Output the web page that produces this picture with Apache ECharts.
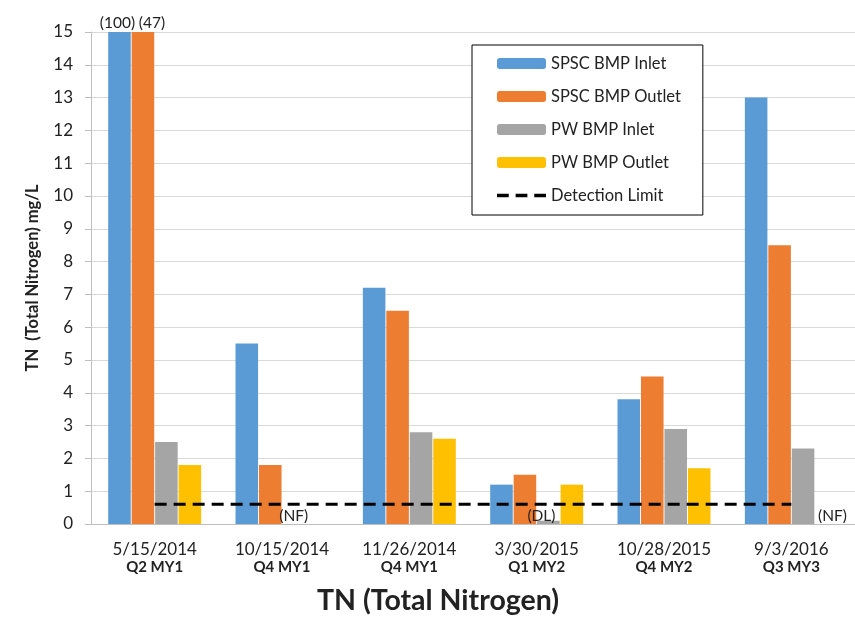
<!DOCTYPE html>
<html>
<head>
<meta charset="utf-8">
<script src="https://cdn.jsdelivr.net/npm/echarts@6/dist/echarts.min.js"></script>
<style>
  html, body { margin: 0; padding: 0; background: #fff; }
  #main { width: 855px; height: 622px; }
</style>
</head>
<body>
<div id="main"></div>
<script>
// sampling dates and monitoring quarters
var categories = ['5/15/2014', '10/15/2014', '11/26/2014', '3/30/2015', '10/28/2015', '9/3/2016'];
var quarters = ['Q2 MY1', 'Q4 MY1', 'Q4 MY1', 'Q1 MY2', 'Q4 MY2', 'Q3 MY3'];

// TN mg/L (null = not found)
var spscInlet = [100, 5.5, 7.2, 1.2, 3.8, 13];
var spscOutlet = [47, 1.8, 6.5, 1.5, 4.5, 8.5];
var pwInlet = [2.5, null, 2.8, 0.1, 2.9, 2.3];
var pwOutlet = [1.8, null, 2.6, 1.2, 1.7, null];
var detectionLimit = [0.6, 0.6, 0.6, 0.6, 0.6, 0.6];

// notes printed near bars
var pwInletNotes = [null, '(NF)', null, '(DL)', null, null];
var pwOutletNotes = [null, null, null, null, null, '(NF)'];

var yMax = 15;
var font = 'Lato, "DejaVu Sans", sans-serif';
var txt = '#222';

// values above the axis max are cut at the top and get their real value printed
function clipped(arr, dx) {
  return arr.map(function (v) {
    if (v > yMax) {
      return {
        value: yMax,
        label: {
          show: true, position: 'top', distance: 1, offset: [dx, 0],
          formatter: '(' + v + ')', color: txt, fontSize: 15.5, fontFamily: font
        }
      };
    }
    return v;
  });
}

function withNotes(arr, notes, dxs) {
  return arr.map(function (v, i) {
    if (notes[i]) {
      return {
        value: v == null ? 0 : v,
        label: {
          show: true, position: 'insideBottom', distance: 0, offset: [dxs[i] || 0, 0],
          formatter: notes[i], color: txt, fontSize: 15.5, fontFamily: font
        }
      };
    }
    return v;
  });
}

var myChart = echarts.init(document.getElementById('main'));
myChart.setOption({
  animation: false,
  textStyle: { fontFamily: font },
  color: ['#5b9bd5', '#ed7d31', '#a5a5a5', '#ffc000'],
  legend: {
    orient: 'vertical',
    left: 472,
    top: 45,
    padding: [10, 22, 11, 25],
    itemWidth: 49,
    itemHeight: 11,
    itemGap: 16,
    borderColor: '#000',
    borderWidth: 1,
    backgroundColor: '#fff',
    textStyle: { fontSize: 16.5, color: txt, fontFamily: font },
    data: [
      'SPSC BMP Inlet', 'SPSC BMP Outlet', 'PW BMP Inlet', 'PW BMP Outlet',
      { name: 'Detection Limit', icon: 'path://M0,0h12v3.5h-12z M19,0h12v3.5h-12z M38,0h12v3.5h-12z' }
    ]
  },
  grid: { left: 91, top: 32, width: 769, height: 492 },
  xAxis: {
    type: 'category',
    data: categories,
    axisLine: { lineStyle: { color: '#bfbfbf' } },
    axisTick: { length: 6, lineStyle: { color: '#bfbfbf' } },
    axisLabel: {
      margin: 17,
      formatter: function (v, i) {
        return '{d|' + v + '}\n{q|' + quarters[i] + '}';
      },
      rich: {
        d: { fontSize: 17, color: txt, fontFamily: font, lineHeight: 18 },
        q: { fontSize: 15, fontWeight: 'bold', color: txt, fontFamily: font, lineHeight: 17 }
      }
    }
  },
  yAxis: {
    type: 'value',
    min: 0,
    max: yMax,
    interval: 1,
    name: 'TN  (Total Nitrogen) mg/L',
    nameLocation: 'middle',
    nameGap: 50,
    nameTextStyle: { fontSize: 16.5, fontWeight: 'bold', color: txt, fontFamily: font },
    axisLine: { show: true, lineStyle: { color: '#bfbfbf' } },
    axisTick: { show: true, length: 6, lineStyle: { color: '#bfbfbf' } },
    axisLabel: { margin: 18, fontSize: 17, color: txt, fontFamily: font },
    splitLine: { lineStyle: { color: '#d9d9d9' } }
  },
  graphic: [{
    type: 'text',
    x: 438,
    y: 601,
    style: {
      text: 'TN (Total Nitrogen)',
      fontSize: 28.5,
      fontWeight: 'bold',
      fontFamily: font,
      fill: txt,
      textAlign: 'center',
      textVerticalAlign: 'middle'
    }
  }],
  series: [
    {
      name: 'SPSC BMP Inlet', type: 'bar', barGap: '4%', barCategoryGap: '27%',
      data: clipped(spscInlet, -2)
    },
    {
      name: 'SPSC BMP Outlet', type: 'bar',
      data: clipped(spscOutlet, 9)
    },
    {
      name: 'PW BMP Inlet', type: 'bar',
      data: withNotes(pwInlet, pwInletNotes, [0, 0, 0, -7, 0, 0])
    },
    {
      name: 'PW BMP Outlet', type: 'bar',
      data: withNotes(pwOutlet, pwOutletNotes, [0, 0, 0, 0, 0, 6])
    },
    {
      name: 'Detection Limit', type: 'line', symbol: 'none',
      lineStyle: { color: '#000', width: 3, type: [12, 7] },
      itemStyle: { color: '#000' },
      data: detectionLimit
    }
  ]
});
</script>
</body>
</html>
